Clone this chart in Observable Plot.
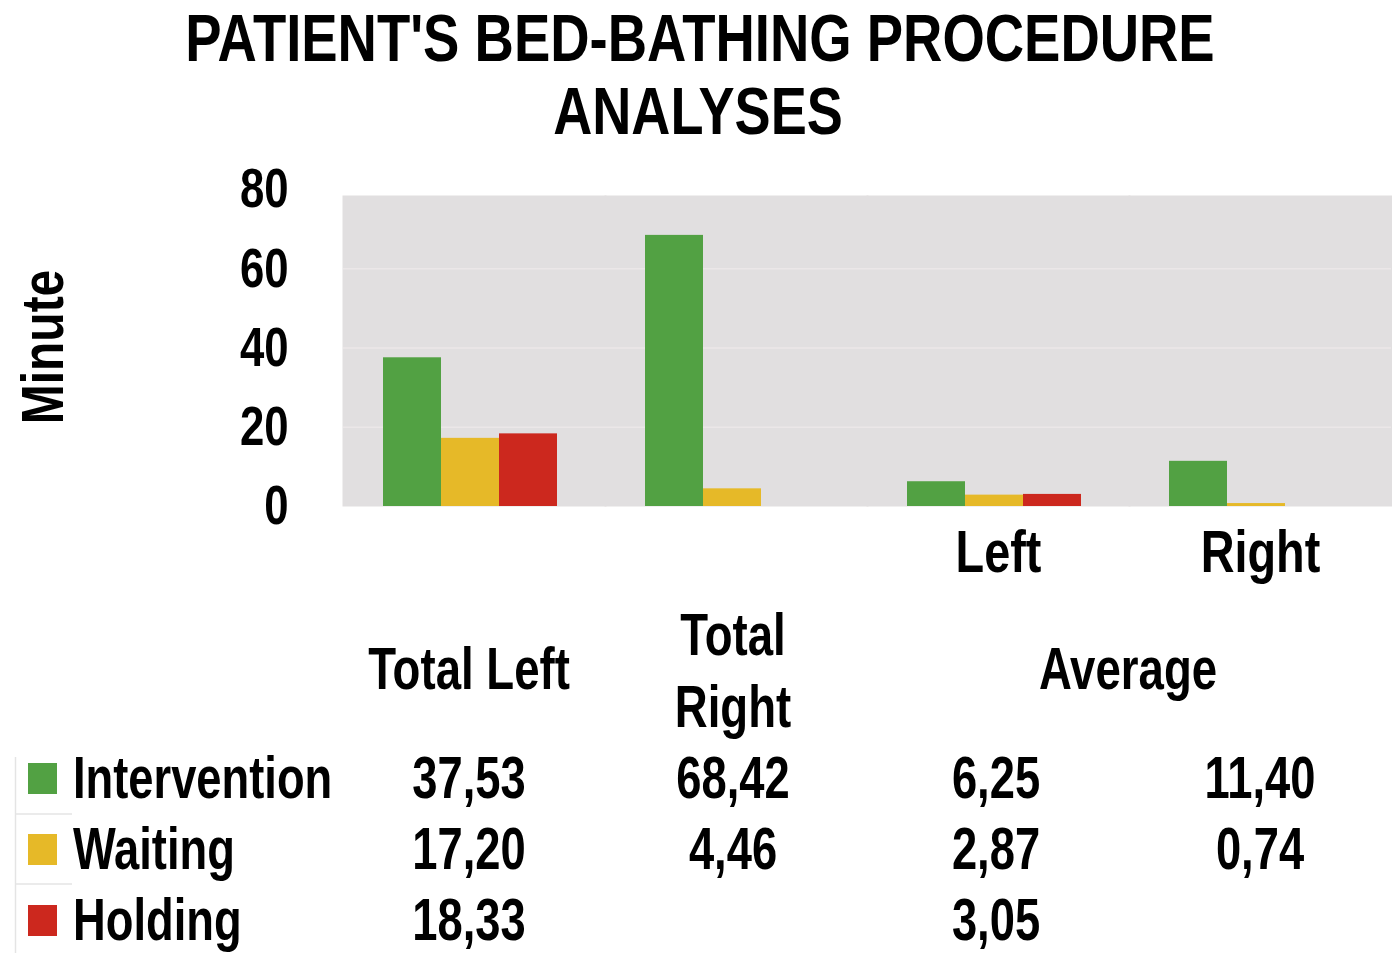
<!DOCTYPE html>
<html><head><meta charset="utf-8">
<script src="https://cdn.jsdelivr.net/npm/d3@7"></script>
<script src="https://cdn.jsdelivr.net/npm/@observablehq/plot@0.6"></script>
<style>
html,body{margin:0;padding:0;background:#fff;}
#wrap{position:relative;width:1392px;height:953px;overflow:hidden;background:#fff;}
#wrap svg{position:absolute;left:0;top:0;}
#wrap text{font-family:"Liberation Sans",Arial,Helvetica,sans-serif;font-weight:bold;fill:#000;}
g[aria-label="y-axis tick label"] text{font-size:56px;}
</style></head><body><div id="wrap"></div>
<script>
// ---- data ----
const categories = ["Total Left", "Total Right", "Left", "Right"];
const axisLabels = ["", "", "Left", "Right"];
const series = ["Intervention", "Waiting", "Holding"];
const intervention = [37.53, 68.42, 6.25, 11.40];
const waiting = [17.20, 4.46, 2.87, 0.74];
const holding = [18.33, null, 3.05, null];
const colors = ["#52a143", "#e6b928", "#cc281e"];
const yTicks = [0, 20, 40, 60, 80];
const gridTicks = [20, 40, 60];
const titleLines = ["PATIENT'S BED-BATHING PROCEDURE", "ANALYSES"];
const yLabel = "Minute";
const headerTotalLeft = ["Total Left"];
const headerTotalRight = ["Total", "Right"];
const headerAverage = ["Average"];

const values = [intervention, waiting, holding];
const data = [];
series.forEach((s, i) => values[i].forEach((v, j) => {
  if (v != null) data.push({category: categories[j], series: s, value: v});
}));

const wrap = document.getElementById("wrap");

const chart = Plot.plot({
  width: 1392, height: 953,
  marginLeft: 342, marginRight: 0, marginTop: 189, marginBottom: 447,
  style: {fontFamily: "Liberation Sans, Arial, sans-serif", fontSize: "60px", fontWeight: "bold", color: "#000", background: "transparent", overflow: "visible"},
  fx: {domain: categories, axis: "bottom", padding: 0, label: null, tickSize: 0, tickPadding: 23,
       tickFormat: d => axisLabels[categories.indexOf(d)]},
  x: {domain: series, axis: null, paddingInner: 0, paddingOuter: 0.75, align: 0.45},
  y: {domain: [0, 80], ticks: yTicks, tickSize: 0, tickPadding: 55, label: null},
  color: {domain: series, range: colors},
  marks: [
    Plot.frame({fill: "#e1dfe0", stroke: "none", insetTop: 6, insetLeft: -1, insetRight: -1}),
    Plot.gridY(gridTicks, {stroke: "#ebe7e8", strokeOpacity: 1, strokeWidth: 1.5}),
    Plot.barY(data, {fx: "category", x: "series", y: "value", fill: "series"})
  ]
});
wrap.appendChild(chart);

// ---- overlay: title, y label, data table ----
const fmt = v => v == null ? "" : v.toFixed(2).replace(".", ",");
const overlay = d3.create("svg").attr("width", 1392).attr("height", 953)
  .style("pointer-events", "none");

// condensed bold text: horizontal scale f applied through a transform
function txt(x, y, s, size, anchor, f, rotate) {
  return overlay.append("text")
    .attr("text-anchor", anchor)
    .attr("font-size", size)
    .attr("transform", `translate(${x},${y})` + (rotate ? ` rotate(${rotate})` : "") + ` scale(${f},1)`)
    .text(s);
}

// title
txt(700, 61, titleLines[0], 66, "middle", 0.825);
txt(698, 134, titleLines[1], 66, "middle", 0.82);
// y label
txt(63, 347, yLabel, 60, "middle", 0.8, -90);

// table layout
const colX = [469, 733, 996, 1260];
const rowY = [798, 869, 940];
txt(colX[0], 689, headerTotalLeft[0], 60, "middle", 0.76);
txt(colX[1], 655, headerTotalRight[0], 60, "middle", 0.76);
txt(colX[1], 727, headerTotalRight[1], 60, "middle", 0.76);
txt((colX[2] + colX[3]) / 2, 689, headerAverage[0], 60, "middle", 0.76);

// faint table borders
overlay.append("line").attr("x1", 15.5).attr("x2", 15.5).attr("y1", 757).attr("y2", 953)
  .attr("stroke", "#e4e4e4").attr("stroke-width", 1.5);
[814, 884].forEach(y => overlay.append("line").attr("x1", 15).attr("x2", 72).attr("y1", y).attr("y2", y)
  .attr("stroke", "#e4e4e4").attr("stroke-width", 1.5));

series.forEach((s, i) => {
  overlay.append("rect").attr("x", 28).attr("y", rowY[i] - 35).attr("width", 29).attr("height", 31)
    .attr("fill", colors[i]);
  txt(73, rowY[i], s, 60, "start", 0.755);
  values[i].forEach((v, j) => {
    if (v != null) txt(colX[j], rowY[i], fmt(v), 60, "middle", 0.755);
  });
});
wrap.appendChild(overlay.node());

// condense Plot's axis text horizontally (narrow bold face)
chart.querySelectorAll("text").forEach(t => {
  const w = t.getComputedTextLength();
  if (w > 0) {
    t.setAttribute("textLength", (w * 0.78).toFixed(1));
    t.setAttribute("lengthAdjust", "spacingAndGlyphs");
  }
});
</script></body></html>
